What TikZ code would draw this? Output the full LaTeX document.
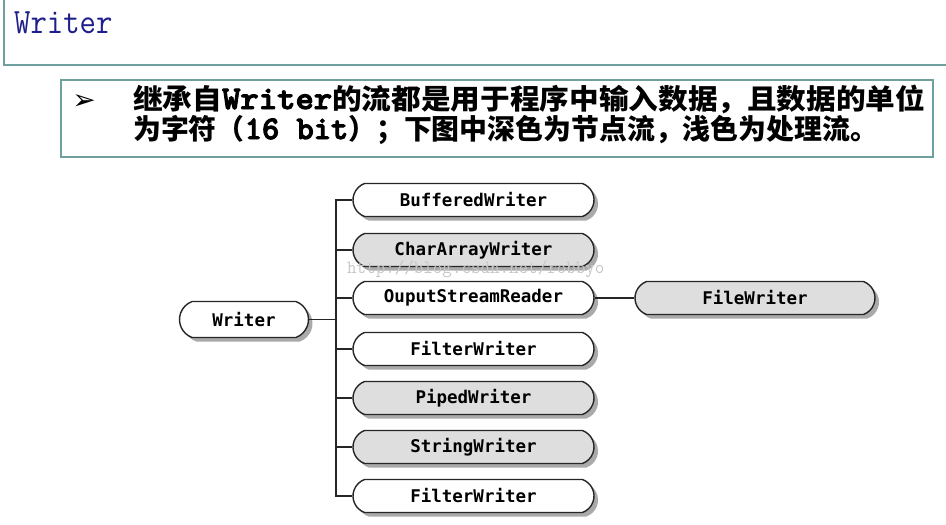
\documentclass[tikz,border=0pt]{standalone}
\usepackage{fontspec}
\usetikzlibrary{shapes.misc,shadows}
\newfontfamily\cjkfont{Noto Sans CJK SC}
\newfontfamily\labelfont{DejaVu Sans Mono}
\newfontfamily\symfont{DejaVu Sans}
\newfontfamily\latinbold{lmmonolt10-bold}[Extension=.otf, FakeBold=3]
\definecolor{boxcol}{RGB}{110,160,160}
\definecolor{titleblue}{RGB}{30,30,140}
\definecolor{nodegray}{RGB}{222,222,222}
\definecolor{shadowgray}{RGB}{170,170,170}
\tikzset{
  stream/.style={rounded rectangle, rounded rectangle arc length=140,
    draw=black!85, line width=1.4pt, minimum height=33pt, minimum width=241pt,
    inner sep=0pt, font=\labelfont\bfseries\fontsize{17.5}{20}\selectfont,
    drop shadow={shadow xshift=4pt, shadow yshift=-4pt, fill=shadowgray, opacity=1}},
  light/.style={stream, fill=white},
  dark/.style={stream, fill=nodegray},
  conn/.style={draw=black!85, line width=1.4pt},
  boxline/.style={draw=boxcol, line width=1.3pt},
  cjkline/.style={anchor=base west, inner sep=0pt, font=\cjkfont\bfseries\fontsize{28}{30}\selectfont},
}
\newcommand{\latinpart}[1]{{\latinbold\fontsize{33}{30}\selectfont #1}}
\begin{document}
\begin{tikzpicture}[x=1pt,y=-1pt]
\useasboundingbox (0,0) rectangle (946,525);
\fill[white] (0,0) rectangle (946,525);
% title box
\draw[boxline] (4,-10) -- (4,65) -- (950,65);
\node[anchor=base west, inner sep=0pt, text=titleblue,
  font=\ttfamily\fontsize{31.8}{34}\selectfont] (title) at (14,33) {\scalebox{1}[1.12]{Writer}};
% text box
\draw[boxline, fill=white] (61,80) rectangle (933,157);
\node[font=\symfont\fontsize{28}{28}\selectfont, inner sep=0pt] (bullet) at (84,102) {➢};
\node[cjkline] (l1) at (133,109)
  {\resizebox{792pt}{\height}{继承自\latinpart{Writer}的流都是用于程序中输入数据，且数据的单位}};
\node[cjkline] (l2) at (133,139)
  {\resizebox{745pt}{\height}{为字符（\latinpart{16 bit}）；下图中深色为节点流，浅色为处理流。}};
% tree
\node[light, minimum width=129pt, minimum height=36pt] (w) at (244,319.5) {Writer};
\node[light] (b1) at (473.5,200) {BufferedWriter};
\node[dark]  (b2) at (473.5,250) {CharArrayWriter};
\node[light] (b3) at (473.5,298) {OuputStreamReader};
\node[light] (b4) at (473.5,349) {FilterWriter};
\node[dark]  (b5) at (473.5,398) {PipedWriter};
\node[dark]  (b6) at (473.5,447) {StringWriter};
\node[light] (b7) at (473.5,496) {FilterWriter};
\node[dark, minimum width=240pt] (fw) at (755,298) {FileWriter};
\coordinate (trunk) at (336,0);
\draw[conn] (b1.west) -- (b1.west -| trunk) -- (b7.west -| trunk) -- (b7.west);
\foreach \n in {b2,b3,b4,b5,b6} \draw[conn] (\n.west) -- (\n.west -| trunk);
\draw[conn] (w.east) -- (w.east -| trunk);
\draw[conn] (b3.east) -- (fw.west);
% watermark
\node[anchor=base west, inner sep=0pt, text=black!22,
  font=\ttfamily\fontsize{18.5}{20}\selectfont] (wm) at (347,273) {http://blog.csdn.net/robbyo};
\end{tikzpicture}
\end{document}
